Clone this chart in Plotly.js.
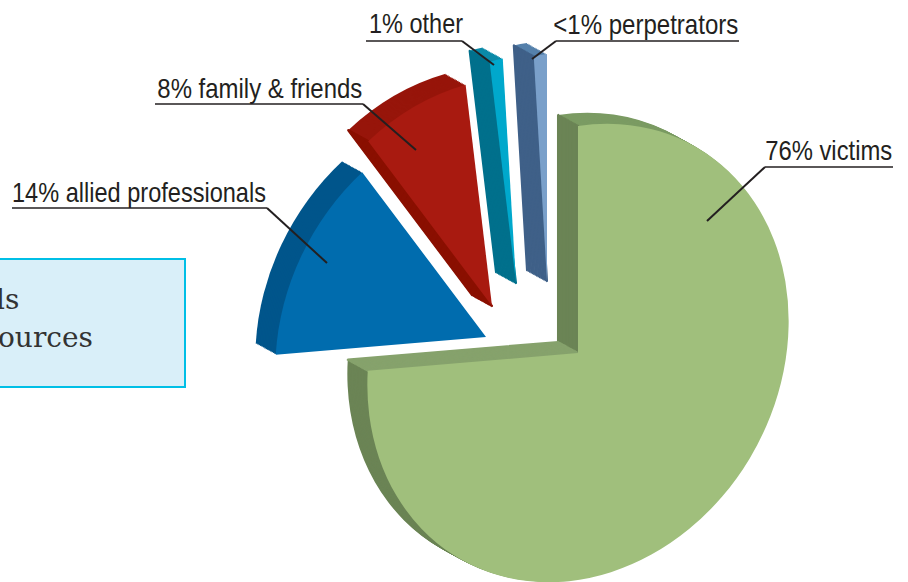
<!DOCTYPE html>
<html>
<head>
<meta charset="utf-8">
<script src="https://cdn.plot.ly/plotly-3.0.1.min.js"></script>
<style>html,body{margin:0;padding:0;background:#fff;overflow:hidden}#chart{width:908px;height:582px}</style>
</head>
<body>
<div id="chart"></div>
<script>
// --- data ---
const categories = ['victims', 'allied professionals', 'family & friends', 'other', 'perpetrators'];
const shares = [76, 14, 8, 1, 1];
const shareLabels = ['76%', '14%', '8%', '1%', '<1%'];
const boxLines = ['ls', 'ources'];

// --- styling and placement ---
const W = 908, H = 582, R = 227;
const centres = [[578,353],[486,337],[492,306],[516,283],[547,281]];
const frontColors = ['#a0bf7c','#006cae','#a81a10','#00a8cc','#7aa0ca'];
const rimColors = ['#6b8455','#00558b','#97150a','#0b8aa8','#5580ab'];
const startEdgeColors = ['#6b8455',null,'#8a0f00','#00708c','#3f6088'];
const endEdgeColors = ['#86a26c',null,null,null,null];
const topRimColor = '#7b9b63';   // upper part of the large slice's rim
const topRimShare = 17;
const depth = [-20,-11], steps = 14;
const tiltX = 0.928, tiltY = -0.141;

const traces = [], traceCentres = [];
function addPie(cx, cy, rotation, values, colors, lineWidths, lineColors) {
  traces.push({
    type:'pie', sort:false, direction:'clockwise', rotation:rotation, values:values,
    domain:{x:[(cx-R)/W,(cx+R)/W], y:[1-(cy+R)/H,1-(cy-R)/H]},
    marker:{colors:colors, line:{width:lineWidths||0, color:lineColors||'rgba(0,0,0,0)'}},
    textinfo:'none', hoverinfo:'skip', showlegend:false
  });
  traceCentres.push([cx,cy]);
}
const none = 'rgba(0,0,0,0)';
let startAngle = 0;
const starts = shares.map(v => { const s = startAngle; startAngle += v*3.6; return s; });

shares.forEach((v,i) => {
  const [cx,cy] = centres[i];
  const off = t => [cx+depth[0]*t, cy+depth[1]*t];
  // rim: swept copies, farthest first
  for (let k=steps;k>=1;k--) {
    const [x,y] = off(k/steps);
    if (i===0) addPie(x,y,starts[i],[topRimShare,v-topRimShare,100-v],[topRimColor,rimColors[i],none]);
    else addPie(x,y,starts[i],[v,100-v],[rimColors[i],none]);
  }
  // flat cut faces: a swept radial edge
  [[startEdgeColors[i],starts[i]],[endEdgeColors[i],starts[i]+v*3.6]].forEach(([col,ang]) => {
    if (!col) return;
    for (let k=steps;k>=0;k--) {
      const [x,y] = off(k/steps);
      addPie(x,y,ang,[0.01,99.99],[col,none],[2.2,0],[col,none]);
    }
  });
  addPie(cx,cy,starts[i],[v,100-v],[frontColors[i],none]);
});

// --- labels ---
const px = x => x/W, py = y => 1-y/H;
const labelSpan = [[765,892],[12,266],[157,362],[369,463],[553,738]];
const labelBase = [159,201,97,32,33];
const leaders = [
  [[893,167],[765,167],[707,221]],
  [[12,208],[267,208],[327,263]],
  [[155,104],[363,104],[416,150]],
  [[366,41],[462,41],[494,65]],
  [[739,41],[556,41],[532,59]]
];
const annotations = categories.map((c,i)=>({
  xref:'paper',yref:'paper',x:px((labelSpan[i][0]+labelSpan[i][1])/2),y:py(labelBase[i]+8),xanchor:'center',yanchor:'bottom',
  text:shareLabels[i].replace('<','&lt;')+' '+c.replace('&','&amp;'),showarrow:false,borderpad:0,
  font:{family:'"Liberation Sans",sans-serif',size:28,color:'#231f20'}
}));
[[19.5,309],[94,347]].forEach((p,i)=>annotations.push({
  xref:'paper',yref:'paper',x:px(p[0]),y:py(p[1]+8),xanchor:'right',yanchor:'bottom',
  text:boxLines[i],showarrow:false,borderpad:0,
  font:{family:'"DejaVu Serif",serif',size:28,color:'#333333'}
}));
const shapes = [{type:'rect',xref:'paper',yref:'paper',x0:px(-6),x1:px(185),y0:py(259),y1:py(387),
  fillcolor:'#d9eff9',line:{color:'#00bfe6',width:2},layer:'below'}];
leaders.forEach(l=>{
  for(let j=0;j<l.length-1;j++) shapes.push({type:'line',xref:'paper',yref:'paper',
    x0:px(l[j][0]),y0:py(l[j][1]),x1:px(l[j+1][0]),y1:py(l[j+1][1]),line:{color:'#231f20',width:j===0?1.7:2}});
});

Plotly.newPlot('chart',traces,{
  width:W,height:H,margin:{l:0,r:0,t:0,b:0},paper_bgcolor:'#fff',showlegend:false,
  annotations:annotations,shapes:shapes
},{staticPlot:true,displayModeBar:false}).then(gd=>{
  // the picture's pie is tilted: shear every slice about its own centre
  gd.querySelectorAll('.pielayer .trace').forEach((g,n)=>{
    const [cx,cy] = traceCentres[n];
    g.setAttribute('transform',`matrix(${tiltX} ${tiltY} 0 1 ${cx*(1-tiltX)} ${-tiltY*cx})`);
  });
  // the labels are set in a condensed face: fit each one to its measured width
  gd.querySelectorAll('.annotation-text').forEach((t,n)=>{
    if (n<labelSpan.length) {
      t.setAttribute('textLength',labelSpan[n][1]-labelSpan[n][0]);
      t.setAttribute('lengthAdjust','spacingAndGlyphs');
    }
  });
});
</script>
</body>
</html>
